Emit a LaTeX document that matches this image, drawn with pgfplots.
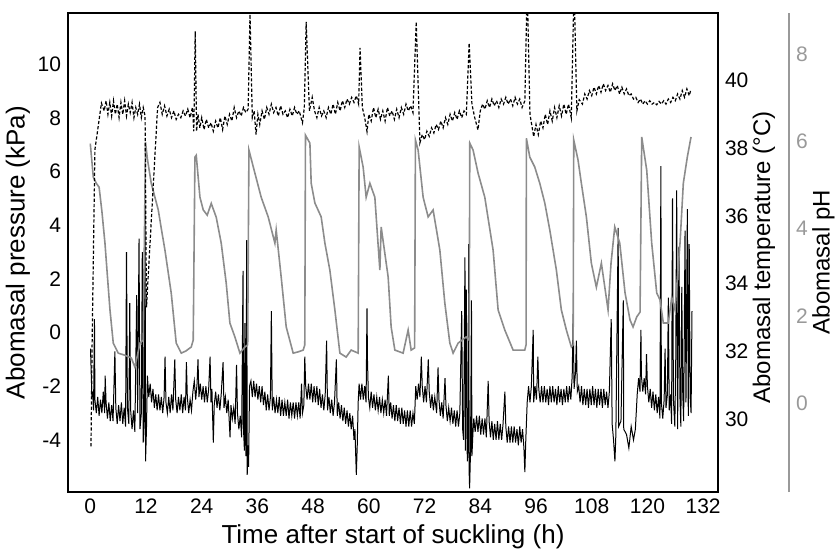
\documentclass[border=0pt]{standalone}
\usepackage{fontspec}
\setmainfont{Liberation Sans}
\usepackage{pgfplots}
\pgfplotsset{compat=1.18}

\definecolor{phgray}{HTML}{8C8C8C}
\definecolor{phaxis}{HTML}{999999}

\newcommand{\tickfont}{\fontsize{10.5bp}{12bp}\selectfont}
\newcommand{\titlefont}{\fontsize{13bp}{15bp}\selectfont}
\newcommand{\rtitlefont}{\fontsize{12bp}{14bp}\selectfont}

\pgfplotsset{
  common/.style={
    at={(0,0)}, anchor=south west,
    scale only axis, width=325bp, height=239.5bp,
    xmin=-4.8, xmax=135.2,
    major tick length=0pt,
    /pgf/number format/assume math mode=true,
    tick label style={font=\tickfont},
  },
}

\begin{document}
\begin{tikzpicture}
\useasboundingbox (-34bp,-28.5bp) rectangle (386bp,246bp);

% pressure (left axis)
\begin{axis}[common,
  axis line style={line width=1bp},
  ymin=-5.94, ymax=11.91,
  ytick={-4,-2,...,10}, xtick={0,12,...,132},
  ytick pos=left, xtick pos=bottom,
  xlabel={Time after start of suckling (h)},
  ylabel={Abomasal pressure (kPa)},
  every axis x label/.style={at={(axis description cs:0.5,-0.094)},anchor=center,font=\titlefont},
  every axis y label/.style={at={(axis description cs:-0.077,0.5)},rotate=90,anchor=center,font=\titlefont}]
\addplot[black, line width=0.5bp] coordinates {
(0.05,-0.6) (0.2,-1.5) (0.35,-2.4) (0.5,-2.2) (0.7,-2.9) (0.9,0.5) (1.0,-2.5) (1.3,-3.0) (1.6,-2.4) (1.9,-3.1)
(2.2,-2.5) (2.5,-3.0) (2.8,-2.2) (3.1,-3.0) (3.2,-1.6) (3.4,-2.6) (3.7,-3.2) (4.0,-2.6) (4.3,-3.3) (4.6,-2.7)
(4.9,-3.3) (5.3,-0.7) (5.5,-2.8) (5.8,-3.4) (6.1,-2.7) (6.4,-3.3) (6.7,-2.6) (7.0,-3.4) (7.3,-2.8) (7.6,-3.5)
(7.8,3.0) (8.0,-2.8) (8.3,-3.4) (8.5,1.1) (8.7,-2.9) (9.0,-3.6) (9.3,-2.9) (9.6,-3.7) (10.0,1.4) (10.2,-3.0)
(10.5,3.5) (10.7,-3.6) (11.0,-3.0) (11.2,3.0) (11.4,-4.1) (11.6,-3.2) (11.8,4.6) (11.9,-4.8) (12.1,-3.6)
(12.3,-1.6) (12.6,-2.4) (12.9,-1.9) (13.2,-2.6) (13.5,-2.1) (13.8,-2.8) (14.1,-2.3) (14.4,-2.9) (14.7,-2.3)
(15.0,-2.9) (15.3,-2.4) (15.6,-3.0) (15.9,-2.4) (16.1,-0.9) (16.3,-2.6) (16.6,-3.0) (16.9,-2.4) (17.2,-3.0)
(17.5,-2.3) (17.8,-2.9) (18.2,-1.0) (18.4,-2.5) (18.7,-3.0) (19.0,-2.4) (19.3,-2.9) (19.6,-2.3) (19.9,-3.0)
(20.2,-2.4) (20.5,-2.9) (20.7,-1.1) (20.9,-2.4) (21.2,-3.0) (21.5,-2.5) (21.8,-2.9) (22.1,-2.2)
(22.4,-1.8) (22.7,-2.5) (23.0,-1.9) (23.2,-1.0) (23.4,-2.4) (23.7,-1.9) (24.0,-2.5) (24.3,-2.0) (24.6,-2.6)
(24.9,-2.0) (25.2,-2.6) (25.5,-2.1) (25.8,-0.9) (26.0,-2.6) (26.2,-2.1) (26.5,-4.1) (26.7,-2.7) (27.0,-2.2)
(27.3,-2.8) (27.6,-2.3) (27.9,-2.9) (28.2,-2.3) (28.6,-1.1) (28.8,-2.8) (29.1,-2.4)
(29.4,-3.0) (29.7,-2.5) (30.1,-3.9) (30.3,-2.7) (30.6,-3.2) (30.9,-2.8) (31.2,-3.4) (31.5,-1.2) (31.7,-3.0)
(32.0,-3.6) (32.3,-3.1) (32.6,-3.9) (32.9,2.3) (33.0,-3.6) (33.2,-4.4) (33.3,0.35) (33.5,-4.6) (33.7,3.45)
(33.8,-5.3) (34.0,-4.2) (34.1,-5.0) (34.3,-2.0)
(34.6,-1.8) (34.9,-2.4) (35.2,-1.8) (35.5,-2.4) (35.8,-1.9) (36.1,-2.5) (36.4,-2.0) (36.7,-2.6) (37.0,-2.0)
(37.3,-2.7) (37.6,-2.2) (37.9,-2.9) (38.2,-2.3) (38.5,-2.9) (38.8,-2.4) (39.0,0.8) (39.2,-2.9) (39.5,-2.4)
(39.8,-3.0) (40.1,-2.5) (40.4,-3.0) (40.7,-2.4) (41.0,-3.1) (41.3,-2.5) (41.6,-3.1) (41.9,-2.6) (42.2,-3.1)
(42.5,-2.5) (42.8,-3.2) (43.1,-2.6) (43.4,-3.1) (43.7,-2.6) (44.0,-3.2) (44.3,-2.6) (44.6,-3.1) (44.9,-2.6)
(45.2,-3.2) (45.5,-1.9) (45.7,-3.0) (46.0,-2.7)
(46.2,-0.9) (46.4,-2.0) (46.7,-2.5) (47.0,-1.9) (47.3,-2.5) (47.6,-1.9) (47.9,-2.6) (48.2,-2.0) (48.5,-2.6)
(48.8,-2.0) (49.1,-2.7) (49.4,-2.1) (49.7,-2.8) (50.0,-2.3) (50.3,-2.9) (50.6,-2.3) (50.9,-0.3) (51.1,-2.9)
(51.4,-2.4) (51.7,-3.0) (52.0,-2.5) (52.3,-3.1) (52.6,-2.6) (53.0,-1.0) (53.2,-3.1) (53.5,-2.6) (53.8,-3.2)
(54.1,-2.7) (54.4,-3.3) (54.7,-2.8) (55.0,-3.4) (55.3,-2.9) (55.6,-3.5) (55.9,-3.0) (56.2,-3.6) (56.5,-3.1)
(56.8,-4.0) (57.0,-3.6) (57.3,-5.3) (57.5,-4.2) (57.7,-2.6)
(57.9,-1.9) (58.2,-2.5) (58.5,-1.9) (58.8,-2.5) (59.1,-2.0) (59.4,-2.6) (59.6,0.9) (59.7,-1.0) (59.9,-2.4)
(60.2,-2.8) (60.5,-2.2) (60.8,-2.8) (61.1,-2.3) (61.4,-2.9) (61.7,-2.4) (62.0,-2.9) (62.3,-2.4) (62.6,-3.0)
(62.9,-2.5) (63.2,-3.0) (63.5,-2.5) (63.8,-3.1) (64.2,-1.6) (64.4,-3.1) (64.7,-2.6) (65.0,-3.2) (65.3,-2.7)
(65.6,-3.3) (65.9,-2.7) (66.2,-3.3) (66.5,-2.8) (66.8,-3.4) (67.1,-2.8) (67.4,-3.4) (67.7,-2.9) (68.0,-3.5)
(68.3,-2.9) (68.6,-3.5) (68.9,-2.9) (69.2,-3.5) (69.5,-3.0) (69.8,-3.4)
(70.1,-2.0) (70.4,-2.5) (70.7,-1.9) (71.0,-2.4) (71.3,-0.9) (71.5,-2.0) (71.8,-2.6) (72.1,-2.0) (72.4,-2.6)
(72.8,-1.0) (73.0,-2.2) (73.3,-2.8) (73.6,-2.3) (73.9,-2.9) (74.2,-2.4) (74.6,-3.0) (74.9,-1.3) (75.1,-2.5)
(75.4,-3.1) (75.7,-2.6) (76.0,-3.2) (76.4,-1.7) (76.6,-2.7) (76.9,-3.3) (77.2,-2.8) (77.5,-3.3) (77.8,-2.8)
(78.1,-3.4) (78.4,-2.9) (78.7,-3.5) (79.0,-2.9) (79.3,-3.5) (79.6,-3.0)
(80.0,0.8) (80.2,-3.6) (80.4,-4.0) (80.7,2.8) (80.8,-4.4) (81.0,1.6) (81.2,-4.8) (81.4,-4.2) (81.5,3.3)
(81.6,-5.2) (81.7,-5.8) (81.9,-4.4) (82.1,1.2) (82.2,-4.6) (82.4,-3.8) (82.6,-3.2)
(82.9,-3.7) (83.2,-3.1) (83.5,-3.7) (83.8,-3.1) (84.1,-3.8) (84.4,-3.2) (84.7,-3.8) (85.0,-3.2) (85.3,-3.9)
(85.7,-1.8) (85.9,-3.3) (86.2,-3.9) (86.5,-3.3) (86.8,-4.0) (87.1,-3.4) (87.4,-4.0) (87.7,-3.3) (88.0,-4.0)
(88.3,-3.4) (88.6,-4.0) (88.9,-3.4) (89.3,-2.2) (89.5,-3.5) (89.8,-4.1) (90.1,-3.5) (90.4,-4.1) (90.7,-3.5)
(91.0,-4.1) (91.3,-3.5) (91.6,-4.1) (91.9,-3.6) (92.2,-4.2) (92.5,-3.5) (92.8,-4.1) (93.1,-3.6) (93.4,-4.3)
(93.6,-5.2) (93.8,-4.0)
(94.1,-2.6) (94.4,-2.0) (94.7,-2.6) (95.0,-2.0) (95.4,0.1) (95.5,-2.6) (95.8,-2.0) (96.1,-2.5) (96.4,-0.9)
(96.6,-2.1) (96.9,-2.6) (97.2,-2.0) (97.5,-2.6) (97.8,-2.0) (98.1,-2.6) (98.4,-2.1) (98.7,-2.7) (99.0,-2.0)
(99.3,-2.6) (99.6,-2.0) (99.9,-2.6) (100.2,-2.1) (100.5,-2.7) (100.8,-2.0) (101.1,-2.6) (101.4,-2.1)
(101.7,-2.7) (102.0,-2.1) (102.3,-2.6) (102.6,-2.0) (102.9,-2.6) (103.2,-2.0) (103.5,-2.5) (103.8,-1.6)
(104.0,0.7) (104.2,-2.1) (104.5,-1.5) (104.7,-0.3) (104.9,-2.2)
(105.2,-2.0) (105.5,-2.6) (105.8,-2.0) (106.1,-2.7) (106.4,-2.1) (106.7,-2.7) (107.0,-2.1) (107.3,-2.8)
(107.6,-2.1) (107.9,-2.7) (108.2,-2.0) (108.5,-2.7) (108.8,-2.1) (109.1,-2.8) (109.4,-2.1) (109.7,-2.7)
(110.0,-2.1) (110.3,-2.8) (110.6,-2.1) (110.9,-2.7) (111.2,-2.2) (111.5,-2.8) (111.8,-2.2) (112.2,0.5)
(112.4,-3.4) (112.7,-4.0) (113.0,-4.8) (113.2,-3.8) (113.7,3.9) (113.8,-3.5)
(114.3,-3.3) (114.8,1.2) (114.9,-3.6) (115.5,-3.8) (116.0,-4.3) (116.5,-3.5) (117.0,-4.0) (117.4,-3.6) (117.8,-2.3)
(118.1,-1.7) (118.4,-2.2) (118.6,0.1) (118.7,-1.6) (119.0,-2.2) (119.3,-1.7) (119.6,-2.3) (119.8,-0.8) (120.0,-2.0)
(120.3,-2.6) (120.6,-2.1) (120.9,-2.8) (121.2,-2.2) (121.5,-2.9) (121.8,-2.3) (122.1,-3.0) (122.4,-2.4)
(122.7,-3.2) (122.9,6.2) (123.0,-2.6) (123.3,-3.2) (123.6,-2.5) (123.8,-0.6) (124.0,-2.8) (124.3,-2.3)
(124.5,1.3) (124.7,-2.9) (125.0,-2.3) (125.2,-3.4) (125.4,5.0) (125.6,-2.5) (125.9,-3.5) (126.1,-1.0)
(126.3,5.3) (126.5,-3.6) (126.8,3.2) (127.0,-2.4) (127.2,-3.5) (127.4,1.7) (127.6,-2.2) (127.8,-3.3)
(128.1,3.8) (128.3,-2.6) (128.6,4.6) (128.8,-3.1) (129.0,3.3) (129.2,-2.4) (129.4,-3.0) (129.6,0.8)
};
\end{axis}

% pH (outer right axis)
\begin{axis}[common,
  ymin=-2.03, ymax=8.94, ytick={0,2,...,8},
  axis x line=none, axis y line*=right,
  y axis line style={draw=phaxis, line width=1bp, xshift=35.5bp},
  yticklabel style={text=phaxis, xshift=35.5bp},
  ylabel={Abomasal pH},
  every axis y label/.style={at={(axis description cs:1.162,0.48)},rotate=90,anchor=center,font=\rtitlefont}]
\addplot[phgray, line width=0.8bp] coordinates {
(0.0,5.95) (0.65,5.18) (1.29,5.04) (1.9,4.95) (2.5,4.4) (3.16,3.67) (3.7,2.9) (4.24,2.14) (4.95,1.38)
(6.03,1.15) (7.5,1.1) (8.83,1.04) (9.62,0.83) (10.7,1.38) (11.4,1.45) (11.9,5.98)
(12.3,5.6) (13.13,5.04) (14.64,4.43) (15.3,4.0) (16.08,3.51) (17.44,2.52) (18.51,1.38) (19.59,1.15)
(20.6,1.2) (21.74,1.29) (22.17,1.45) (22.54,5.64)
(22.82,5.68) (23.62,4.72) (24.33,4.43) (25.19,4.31) (26.05,4.58) (27.13,4.26) (28.2,3.67) (29.28,2.75)
(30.07,1.84) (31.15,1.52) (32.23,1.15) (33.3,1.29) (33.9,1.34) (34.17,5.8)
(35.46,5.27) (36.81,4.72) (38.32,4.27) (39.76,3.67) (40.04,3.97) (41.12,2.89) (42.2,1.75) (43.7,1.15)
(44.8,1.18) (45.86,1.22) (46.2,1.34) (46.35,6.14)
(47.3,5.96) (47.58,5.04) (48.37,4.59) (49.73,4.27) (50.53,3.67) (51.6,3.05) (52.68,2.14) (53.76,1.15)
(55.11,1.06) (56.19,1.22) (57.7,1.15) (57.91,5.87)
(58.77,5.41) (59.42,4.72) (60.22,5.04) (61.29,4.72) (62.37,3.05) (62.65,4.04) (64.16,2.89) (64.8,1.75)
(65.6,1.22) (67.38,1.15) (68.46,1.68) (69.11,1.22) (69.86,1.27) (70.03,6.03)
(70.61,5.8) (71.69,4.72) (72.77,4.27) (73.84,4.43) (75.29,3.51) (76.36,2.3) (77.44,1.38) (78.15,1.15)
(79.23,1.38) (80.95,1.52) (81.6,1.45) (81.74,5.96)
(82.45,5.8) (83.53,5.27) (84.97,4.72) (86.76,3.51) (87.84,2.14) (89.28,1.68) (91.07,1.22) (93.58,1.22)
(93.86,1.34) (93.93,6.07)
(94.66,5.64) (95.74,5.41) (96.81,5.04) (97.89,4.59) (98.97,3.97) (100.39,3.05) (101.46,2.14) (102.54,1.68)
(103.62,1.29) (104.0,1.34) (104.13,6.03)
(105.06,5.57) (105.77,5.04) (106.85,4.27) (107.92,3.21) (109.0,2.66) (110.08,3.21) (111.52,2.14)
(112.16,3.21) (112.96,4.04) (114.04,3.67) (115.18,2.53) (116.25,1.91) (116.9,1.75) (117.7,1.98)
(118.41,2.09) (118.77,6.1)
(119.85,5.34) (120.92,3.67) (122.0,2.53) (122.71,2.37) (123.42,1.84) (124.5,1.84) (125.23,2.43)
(125.94,2.14) (127.02,3.67) (127.73,5.04) (128.59,5.64) (129.39,6.1)
};
\end{axis}

% temperature (inner right axis)
\begin{axis}[common,
  ymin=27.85, ymax=41.99, ytick={30,32,...,40},
  axis x line=none, axis y line*=right,
  y axis line style={draw=none},
  ylabel={Abomasal temperature (°C)},
  every axis y label/.style={at={(axis description cs:1.0708,0.49)},rotate=90,anchor=center,font=\rtitlefont}]
\addplot[black, line width=0.6bp, dash pattern=on 1.6bp off 1bp] coordinates {
(0.15,29.2) (0.4,32.3) (1.0,37.96) (1.7,38.64) (2.4,39.33) (3.0,39.1) (3.4,39.4) (3.8,39.0) (4.2,39.35)
(4.6,38.95) (5.0,39.4) (5.4,39.0) (5.8,39.3) (6.2,38.9) (6.6,39.35) (7.0,39.0) (7.4,39.4) (7.8,38.95)
(8.2,39.3) (8.6,39.05) (9.0,39.35) (9.4,38.9) (9.8,39.2) (10.2,39.0) (10.6,39.3) (11.0,38.9) (11.4,39.2)
(11.8,38.95) (12.1,33.3) (14.5,39.2) (15.0,39.35) (15.5,39.0) (16.0,39.25) (16.5,38.95) (17.0,39.15)
(17.5,38.9) (18.0,39.1) (18.5,38.85) (19.0,39.0) (19.5,38.9) (20.0,39.1) (20.5,38.95) (21.0,39.15)
(21.5,38.9) (22.0,39.2) (22.3,38.5) (22.6,41.45) (22.9,38.5) (23.2,39.0) (23.6,38.6) (24.0,38.9)
(24.5,38.55) (25.0,38.85) (25.5,38.6) (26.0,38.75) (26.5,38.5) (27.0,38.8) (27.5,38.6) (28.0,38.9)
(28.5,38.55) (29.0,38.95) (29.5,38.7) (30.0,39.0) (30.5,38.8) (31.0,39.2) (31.5,38.9) (32.0,39.1)
(32.5,38.95) (33.0,39.2) (33.5,39.05) (34.0,39.15) (34.4,41.95) (34.9,38.9) (35.3,39.1) (35.7,38.4)
(36.1,39.0) (36.5,38.7) (37.0,39.1) (37.5,38.85) (38.0,39.2) (38.5,39.0) (39.0,39.3) (39.5,39.05)
(40.0,39.2) (40.5,38.95) (41.0,39.25) (41.5,39.0) (42.0,39.1) (42.5,38.9) (43.0,39.15) (43.5,38.95)
(44.0,39.2) (44.5,39.0) (45.0,39.1) (45.7,38.75) (46.1,39.2) (46.5,41.73) (47.2,39.1) (47.8,39.5)
(48.3,39.1) (48.8,38.9) (49.3,39.2) (49.8,38.95) (50.3,39.1) (50.8,38.9) (51.3,39.2) (51.8,39.0)
(52.3,39.3) (52.8,39.0) (53.3,39.35) (53.8,39.1) (54.3,39.4) (54.8,39.2) (55.3,39.45) (55.8,39.3)
(56.3,39.5) (56.8,39.35) (57.3,39.55) (57.8,39.3) (58.1,40.96) (58.6,39.2) (59.1,38.9) (59.6,38.49)
(60.0,39.0) (60.5,38.8) (61.0,39.2) (61.5,38.9) (62.0,39.15) (62.5,38.85) (63.0,39.1) (63.5,38.8)
(64.0,39.2) (64.5,38.95) (65.0,39.1) (65.5,38.85) (66.0,39.15) (66.5,38.9) (67.0,39.2) (67.5,39.0)
(68.0,39.3) (68.5,39.1) (69.0,39.25) (69.5,39.05) (70.2,41.73) (71.0,38.16) (71.5,38.4) (72.0,38.25)
(72.5,38.5) (73.0,38.35) (73.5,38.6) (74.0,38.45) (74.5,38.7) (75.0,38.55) (75.5,38.8) (76.0,38.6)
(76.5,38.9) (77.0,38.7) (77.5,39.0) (78.0,38.8) (78.5,39.05) (79.0,38.85) (79.5,39.1) (80.0,38.9)
(80.5,39.1) (81.0,39.0) (81.6,41.1) (82.2,39.3) (82.8,38.9) (83.5,38.54) (84.0,39.1) (84.5,39.3)
(85.0,39.15) (85.5,39.4) (86.0,39.2) (86.5,39.45) (87.0,39.25) (87.5,39.4) (88.0,39.2) (88.5,39.45)
(89.0,39.3) (89.5,39.5) (90.0,39.3) (90.5,39.45) (91.0,39.25) (91.5,39.5) (92.0,39.3) (92.5,39.45)
(93.0,39.2) (93.6,39.4) (94.1,42.8) (94.7,39.0) (95.5,38.34) (96.0,38.7) (96.5,38.4) (97.0,38.8)
(97.5,38.6) (98.0,39.0) (98.5,38.7) (99.0,39.1) (99.5,38.8) (100.0,39.2) (100.5,38.9) (101.0,39.25)
(101.5,38.95) (102.0,39.3) (102.5,39.0) (103.0,39.3) (103.6,38.9) (104.2,42.8) (104.8,39.1) (105.3,39.43)
(106.0,39.3) (106.5,39.6) (107.0,39.45) (107.5,39.7) (108.0,39.55) (108.5,39.8) (109.0,39.6) (109.5,39.85)
(110.0,39.65) (110.5,39.9) (111.0,39.7) (111.5,39.85) (112.0,39.65) (112.5,39.9) (113.0,39.7) (113.5,39.85)
(114.0,39.6) (114.5,39.8) (115.0,39.6) (115.5,39.75) (116.0,39.55) (116.5,39.6) (117.0,39.45) (117.5,39.5)
(118.0,39.35) (118.5,39.45) (119.0,39.3) (119.5,39.4) (120.0,39.3) (120.5,39.4) (121.0,39.3) (121.5,39.35)
(122.0,39.28) (122.5,39.38) (123.0,39.3) (123.5,39.4) (124.0,39.3) (124.5,39.45) (125.0,39.35) (125.5,39.5)
(126.0,39.4) (126.5,39.6) (127.0,39.45) (127.5,39.7) (128.0,39.5) (128.5,39.75) (129.0,39.55) (129.3,39.7)
};
\end{axis}
\end{tikzpicture}
\end{document}
